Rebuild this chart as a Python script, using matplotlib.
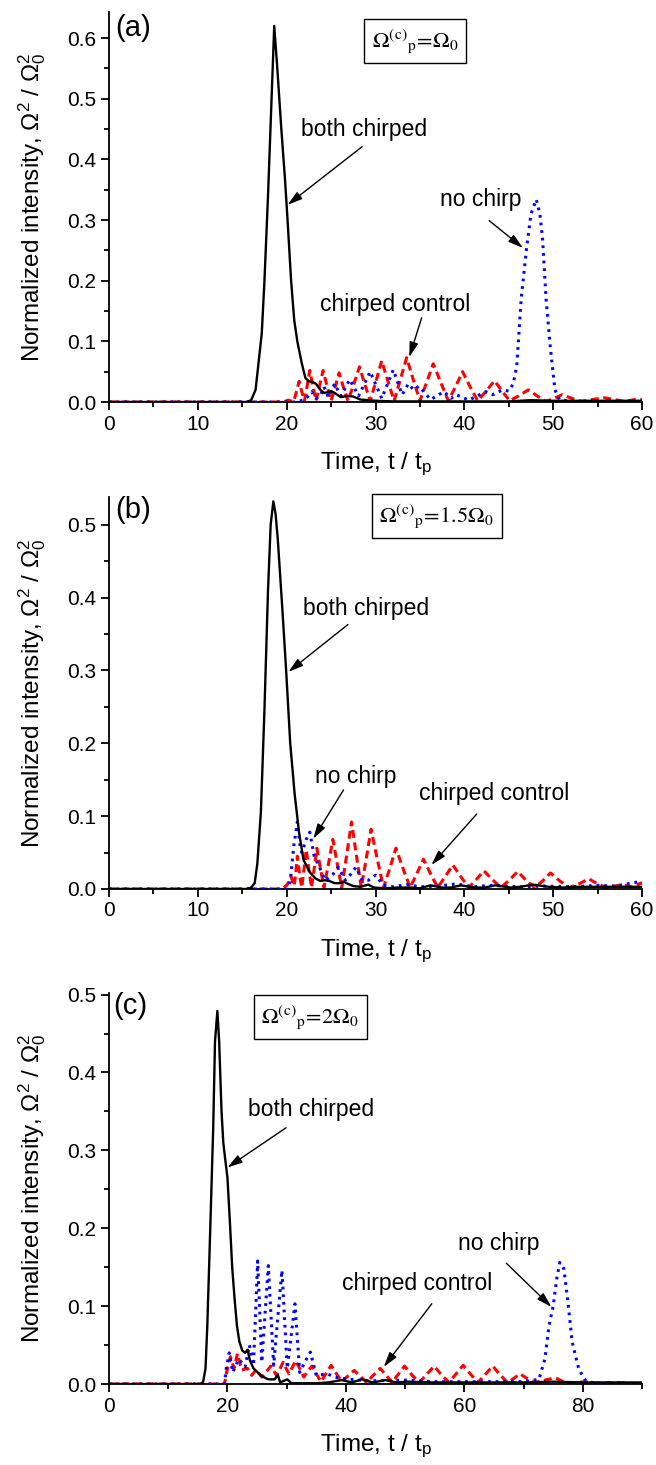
import numpy as np
import matplotlib.pyplot as plt
from matplotlib.ticker import MultipleLocator, FormatStrFormatter

plt.rcParams['font.family'] = ['Liberation Sans', 'DejaVu Sans']
plt.rcParams['mathtext.fontset'] = 'custom'
plt.rcParams['mathtext.rm'] = 'Liberation Sans'
plt.rcParams['mathtext.it'] = 'Liberation Sans:italic'
plt.rcParams['mathtext.sf'] = 'Liberation Sans'

# ------------------------------------------------------------
#  Data  (t in units of t_p, intensity)
# ------------------------------------------------------------
# (a)  Omega_p^(c) = Omega_0
a_t_both = [0, 15.5, 16.0, 16.5, 16.8, 17.2, 17.5, 17.9, 18.3, 18.6, 18.9, 19.4, 19.8, 20.1,
            20.5, 20.85, 21.2, 21.7, 22.1, 22.5, 22.9, 23.3, 23.8, 24.2, 24.6, 25.0, 25.4,
            26.1, 26.8, 27.5, 28.3, 29.2, 30.1, 32, 35, 40, 45, 47.5, 50, 55, 60]
a_y_both = [0, 0, 0.003, 0.02, 0.06, 0.114, 0.2, 0.34, 0.5, 0.62, 0.56, 0.45, 0.37, 0.3,
            0.2, 0.135, 0.1, 0.064, 0.04, 0.034, 0.033, 0.03, 0.02, 0.015, 0.016, 0.018, 0.015,
            0.008, 0.01, 0.009, 0.004, 0.003, 0.002, 0.001, 0.001, 0.001, 0.001, 0.003, 0.002, 0.002, 0.002]

a_t_ctrl = [0, 19.0, 19.8, 20.2, 20.6, 20.8, 21.1, 21.4, 21.7, 22.0, 22.3, 22.6, 22.95, 23.3,
            23.7, 24.1, 24.55, 25.0, 25.45, 25.9, 26.4, 26.9, 27.55, 28.2, 28.8, 29.4, 30.05,
            30.7, 31.4, 32.1, 32.8, 33.5, 34.25, 35.0, 35.75, 36.5, 37.35, 38.2, 39.0, 39.8,
            40.65, 41.5, 42.45, 43.4, 44.25, 45.1, 46.1, 47.2, 48.2, 49.2, 50.1, 51.0, 52.1,
            53.2, 54.4, 55.7, 56.9, 58.0, 58.8, 59.6, 60]
a_y_ctrl = [0, 0, 0.001, 0.003, 0.001, 0.001, 0.017, 0.034, 0.017, 0.002, 0.026, 0.052, 0.026, 0.002,
            0.026, 0.052, 0.026, 0.002, 0.024, 0.048, 0.024, 0.002, 0.029, 0.058, 0.029, 0.002, 0.034,
            0.068, 0.034, 0.002, 0.037, 0.073, 0.037, 0.002, 0.032, 0.063, 0.032, 0.002, 0.025, 0.05,
            0.025, 0.002, 0.018, 0.035, 0.018, 0.002, 0.01, 0.02, 0.01, 0.001, 0.006, 0.012, 0.006,
            0.001, 0.004, 0.007, 0.004, 0.001, 0.003, 0.005, 0.004]

a_t_none = [0, 21.0, 21.8, 22.3, 22.8, 23.3, 23.8, 24.2, 24.7, 25.4, 26.1, 27.1, 28.1, 29.4, 30.7,
            32.0, 33.0, 33.7, 34.3, 34.9, 36.2, 37.7, 38.5, 39.1, 40.5, 42.4, 43.2, 44.3, 45.0,
            45.5, 45.9, 46.4, 47.0, 47.5, 48.1, 48.5, 48.8, 49.2, 49.7, 50.2, 50.7, 52, 60]
a_y_none = [0, 0, 0.003, 0.008, 0.017, 0.006, 0.01, 0.025, 0.008, 0.03, 0.01, 0.037, 0.01, 0.05, 0.006,
            0.053, 0.012, 0.03, 0.02, 0.026, 0.004, 0.017, 0.006, 0.012, 0.003, 0.017, 0.012, 0.02, 0.018,
            0.03, 0.059, 0.17, 0.253, 0.31, 0.334, 0.31, 0.27, 0.17, 0.087, 0.02, 0.004, 0.001, 0]

# (b)  Omega_p^(c) = 1.5 Omega_0
b_t_both = [0, 15.5, 16.0, 16.4, 16.7, 17.1, 17.5, 17.9, 18.2, 18.5, 18.75, 19.0, 19.5, 19.95,
            20.4, 20.9, 21.4, 21.9, 22.6, 23.3, 23.8, 24.3, 24.8, 25.4, 26.0, 26.4, 26.9, 27.5,
            28.3, 29.2, 29.8, 31.0, 32.5, 34.0, 35.0, 36.2, 37.5, 38.5, 39.6, 41.2, 42.3, 43.5,
            45.2, 46.3, 47.7, 49.5, 51, 53, 56, 60]
b_y_both = [0, 0, 0.002, 0.008, 0.035, 0.106, 0.246, 0.41, 0.5, 0.532, 0.515, 0.48, 0.387, 0.298,
            0.2, 0.13, 0.077, 0.04, 0.023, 0.014, 0.011, 0.012, 0.011, 0.008, 0.008, 0.01, 0.007, 0.004,
            0.003, 0.006, 0.002, 0.001, 0.002, 0.002, 0.001, 0.005, 0.002, 0.002, 0.005, 0.002, 0.002, 0.005,
            0.002, 0.003, 0.006, 0.003, 0.002, 0.003, 0.003, 0.003]

b_t_ctrl = [0, 19.5, 20.0, 20.25, 20.5, 20.85, 21.0, 21.2, 21.45, 21.7, 21.95, 22.2, 22.5, 22.8,
            23.1, 23.4, 23.8, 24.2, 24.7, 25.2, 25.7, 26.2, 26.75, 27.3, 27.85, 28.4, 28.95, 29.5,
            30.2, 30.9, 31.6, 32.3, 33.1, 33.9, 34.65, 35.4, 36.2, 37.0, 37.85, 38.7, 39.6, 40.5,
            41.35, 42.2, 43.15, 44.1, 45.05, 46.0, 46.95, 47.9, 48.8, 49.7, 50.75, 51.8, 52.9,
            54.0, 55.0, 56.0, 56.9, 57.8, 58.8, 59.9, 60]
b_y_ctrl = [0, 0, 0.005, 0.01, 0.017, 0.004, 0.02, 0.045, 0.02, 0.002, 0.027, 0.054, 0.027, 0.002,
            0.028, 0.056, 0.028, 0.002, 0.034, 0.068, 0.034, 0.002, 0.046, 0.092, 0.046, 0.002, 0.041, 0.082,
            0.041, 0.002, 0.028, 0.056, 0.028, 0.002, 0.021, 0.041, 0.021, 0.002, 0.017, 0.033, 0.017, 0.002,
            0.013, 0.025, 0.013, 0.002, 0.012, 0.024, 0.012, 0.002, 0.011, 0.022, 0.011, 0.002, 0.007,
            0.014, 0.007, 0.002, 0.004, 0.006, 0.003, 0.008, 0.008]

b_t_none = [0, 20.0, 20.4, 20.8, 21.2, 21.5, 21.7, 22.2, 22.6, 23.1, 23.7, 24.3, 24.7, 25.2, 25.8,
            26.6, 27.2, 27.8, 28.5, 29.2, 30.0, 30.9, 32, 33.5, 35, 37, 39.1, 41, 43, 46, 49, 52,
            55, 57, 59.7, 60]
b_y_none = [0, 0, 0.01, 0.059, 0.092, 0.06, 0.05, 0.068, 0.078, 0.045, 0.03, 0.012, 0.015, 0.02, 0.03,
            0.012, 0.02, 0.03, 0.012, 0.012, 0.019, 0.005, 0.003, 0.006, 0.003, 0.004, 0.007, 0.003, 0.005,
            0.003, 0.004, 0.003, 0.005, 0.004, 0.01, 0.009]

# (c)  Omega_p^(c) = 2 Omega_0
c_t_both = [0, 15.5, 15.9, 16.3, 16.6, 17.1, 17.6, 17.9, 18.3, 18.6, 19.0, 19.3, 19.6, 20.0, 20.4,
            20.8, 21.2, 21.6, 22.0, 22.5, 23.0, 23.4, 23.8, 24.4, 25.1, 25.8, 26.9, 28.0, 28.5,
            28.9, 30.1, 30.8, 33, 35, 37, 39.3, 41, 42.7, 44.5, 46.7, 48.5, 50.3, 55, 60, 70, 75,
            80, 85, 90]
c_y_both = [0, 0, 0.003, 0.02, 0.075, 0.2, 0.33, 0.44, 0.479, 0.44, 0.35, 0.31, 0.29, 0.265, 0.21,
            0.15, 0.11, 0.075, 0.055, 0.043, 0.04, 0.044, 0.03, 0.02, 0.015, 0.01, 0.006, 0.006, 0.012,
            0.002, 0.006, 0.001, 0.001, 0.001, 0.002, 0.005, 0.002, 0.006, 0.002, 0.005, 0.002, 0.003,
            0.002, 0.002, 0.002, 0.003, 0.002, 0.002, 0.002]

c_t_ctrl = [0, 19.5, 20.0, 20.5, 21.1, 21.7, 22.4, 23.4, 24.1, 24.8, 25.8, 26.6, 27.3, 27.8, 28.3,
            28.9, 29.4, 29.9, 30.4, 31.0, 31.5, 32.2, 32.9, 33.6, 34.3, 35.0, 35.8, 36.6, 37.5,
            38.4, 39.3, 40.3, 41.4, 42.4, 43.5, 44.6, 45.8, 46.8, 47.8, 48.8, 49.9, 51.1, 52.4,
            53.6, 54.9, 56.1, 57.4, 58.6, 59.8, 61.0, 62.3, 63.5, 64.8, 66.0, 67.3, 68.3, 69.4,
            70.6, 71.9, 73.6, 75.4, 76.4, 77.5, 79.0, 80.4, 82, 86, 88, 90]
c_y_ctrl = [0, 0, 0.02, 0.035, 0.02, 0.039, 0.018, 0.02, 0.011, 0.018, 0.009, 0.016, 0.023, 0.017, 0.011,
            0.02, 0.028, 0.02, 0.013, 0.022, 0.03, 0.02, 0.009, 0.017, 0.023, 0.013, 0.003, 0.013, 0.024,
            0.013, 0.003, 0.01, 0.0175, 0.01, 0.002, 0.011, 0.02, 0.011, 0.002, 0.012, 0.023, 0.012, 0.002,
            0.012, 0.023, 0.012, 0.002, 0.013, 0.024, 0.013, 0.002, 0.012, 0.023, 0.012, 0.002, 0.007, 0.013,
            0.007, 0.002, 0.005, 0.008, 0.004, 0.001, 0.002, 0.003, 0.001, 0.002, 0.001, 0]

c_t_none = [0, 19.5, 19.8, 20.3, 20.9, 21.9, 23.0, 23.7, 24.4, 25.1, 25.8, 26.9, 27.8, 29.2, 30.1,
            31.4, 32.2, 33.2, 34.0, 35.0, 36.8, 38.6, 40.7, 44, 50, 55, 60, 65, 70, 72.6, 73.6,
            74.3, 75.0, 75.6, 76.1, 76.8, 77.5, 78.2, 79.3, 80.4, 82, 90]
c_y_none = [0, 0, 0.02, 0.04, 0.015, 0.032, 0.022, 0.05, 0.024, 0.158, 0.028, 0.152, 0.024, 0.146, 0.02,
            0.103, 0.015, 0.03, 0.041, 0.011, 0.013, 0.008, 0.006, 0.004, 0.005, 0.003, 0.003, 0.003, 0.003,
            0.006, 0.032, 0.075, 0.1, 0.135, 0.156, 0.148, 0.105, 0.054, 0.02, 0.005, 0.001, 0]

panel_tags   = ['(a)', '(b)', '(c)']
box_texts    = [r'$\Omega^{\mathrm{(c)}}{}_{\mathrm{p}}\!=\!\Omega_{\mathrm{0}}$',
                r'$\Omega^{\mathrm{(c)}}{}_{\mathrm{p}}\!=\!1.5\Omega_{\mathrm{0}}$',
                r'$\Omega^{\mathrm{(c)}}{}_{\mathrm{p}}\!=\!2\Omega_{\mathrm{0}}$']
x_limits     = [60, 60, 90]
y_limits     = [0.643, 0.538, 0.502]
x_major      = [10, 10, 20]

# ------------------------------------------------------------
#  Figure
# ------------------------------------------------------------
fig = plt.figure(figsize=(6.56, 14.65), dpi=100)

W, H = 656, 1465
left, right = 109, 642
boxes_px = [(12, 402), (497, 889), (993, 1384)]   # (top, bottom) in pixels

# annotation layout per panel: (text, text_xy, arrow_tail, arrow_tip)
notes = [
    [('both chirped',    (28.7, 0.45),  (28.5, 0.421), (20.1, 0.325)),
     ('no chirp',        (41.8, 0.334), (42.8, 0.299), (46.6, 0.254)),
     ('chirped control', (32.2, 0.161), (35.2, 0.139), (33.8, 0.074))],
    [('both chirped',    (28.9, 0.385), (26.9, 0.363), (20.2, 0.298)),
     ('no chirp',        (27.75, 0.154), (26.4, 0.136), (23.0, 0.069)),
     ('chirped control', (43.3, 0.131), (41.4, 0.103), (36.3, 0.033))],
    [('both chirped',    (34.15, 0.352), (29.9, 0.329), (20.0, 0.278)),
     ('no chirp',        (65.85, 0.180), (67.1, 0.155), (74.7, 0.099)),
     ('chirped control', (51.95, 0.1285), (54.5, 0.103), (46.4, 0.022))],
]
box_centres = [(34.45, 0.595), (36.9, 0.512), (34.0, 0.4715)]
tag_pos = [(0.012, 0.958), (0.012, 0.966), (0.008, 0.966)]

series = [
    (a_t_both, a_y_both, a_t_ctrl, a_y_ctrl, a_t_none, a_y_none),
    (b_t_both, b_y_both, b_t_ctrl, b_y_ctrl, b_t_none, b_y_none),
    (c_t_both, c_y_both, c_t_ctrl, c_y_ctrl, c_t_none, c_y_none),
]

arrow_kw = dict(arrowstyle='-|>,head_length=0.75,head_width=0.22', color='k',
                lw=1.0, mutation_scale=12, shrinkA=0, shrinkB=0)

for i in range(3):
    top, bot = boxes_px[i]
    ax = fig.add_axes([left / W, 1 - bot / H, (right - left) / W, (bot - top) / H])
    tb, yb, tc, yc, tn, yn = series[i]

    ax.plot(tc, yc, color='#ff0000', lw=2.2, ls=(0, (2.6, 1.5)), zorder=2)
    ax.plot(tn, yn, color='#0000ff', lw=2.2, ls=(0, (0.9, 1.6)), zorder=3)
    ax.plot(tb, yb, color='k', lw=1.7, zorder=4)

    ax.set_xlim(0, x_limits[i])
    ax.set_ylim(0, y_limits[i])
    ax.xaxis.set_major_locator(MultipleLocator(x_major[i]))
    ax.xaxis.set_minor_locator(MultipleLocator(x_major[i] / 2))
    ax.yaxis.set_major_locator(MultipleLocator(0.1))
    ax.yaxis.set_minor_locator(MultipleLocator(0.05))
    ax.yaxis.set_major_formatter(FormatStrFormatter('%.1f'))

    for s in ['top', 'right']:
        ax.spines[s].set_visible(False)
    for s in ['left', 'bottom']:
        ax.spines[s].set_linewidth(1.3)
    ax.tick_params(which='major', direction='out', length=6, width=1.3, labelsize=15, pad=3)
    ax.tick_params(which='minor', direction='out', length=3.5, width=1.3)

    ax.set_xlabel(r'Time, t / t$_{\mathsf{p}}$', fontsize=17.5, labelpad=12)
    ax.set_ylabel(r'Normalized intensity, $\Omega^{\mathsf{2}}$ / $\Omega_{\mathsf{0}}^{\mathsf{2}}$',
                  fontsize=17.5, labelpad=14)

    ax.text(*tag_pos[i], panel_tags[i], transform=ax.transAxes, fontsize=21,
            ha='left', va='center')

    ax.text(*box_centres[i], box_texts[i], fontsize=16, ha='center', va='center',
            math_fontfamily='stix', zorder=6,
            bbox=dict(boxstyle='square,pad=0.35', fc='white', ec='k', lw=1.0))

    for label, txy, tail, tip in notes[i]:
        ax.text(*txy, label, fontsize=16.5, ha='center', va='center', zorder=6)
        ax.annotate('', xy=tip, xytext=tail, arrowprops=arrow_kw, zorder=6)

fig.savefig('out.png', dpi=100)
